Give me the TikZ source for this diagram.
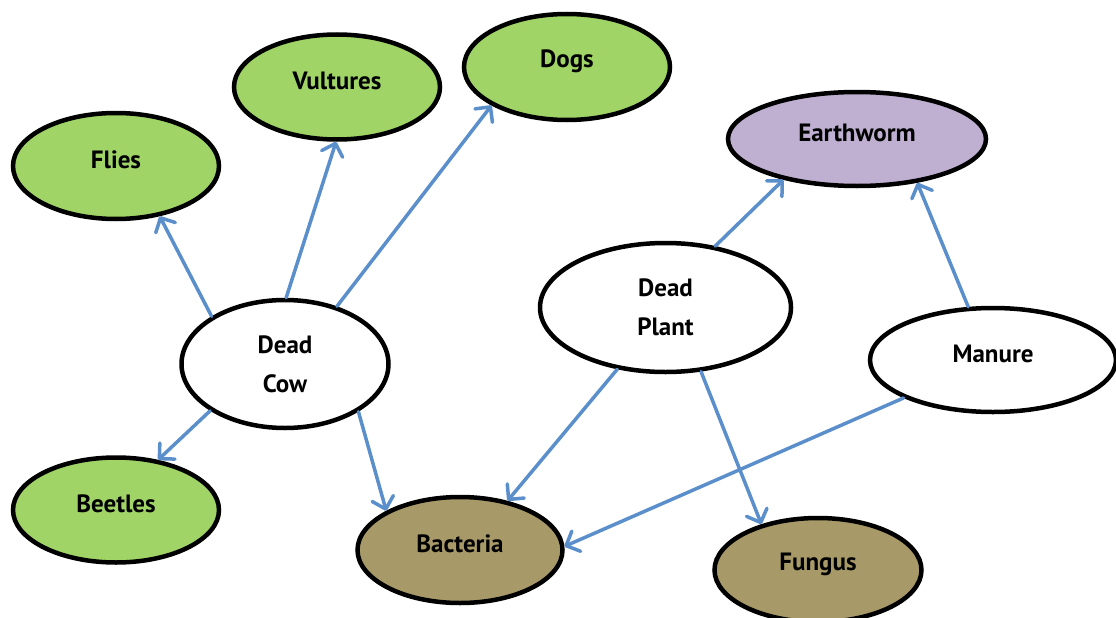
\documentclass[tikz,border=0pt]{standalone}
\usepackage{fontspec}
\setmainfont{PT Sans}
\usetikzlibrary{arrows.meta,shapes.geometric}
\definecolor{leafgreen}{HTML}{A0D466}
\definecolor{wormpurple}{HTML}{BFB0D2}
\definecolor{soilbrown}{HTML}{A89A68}
\definecolor{arrowblue}{HTML}{5B8FCB}
\newcommand{\lift}[1]{\raisebox{6pt}[\height][\depth]{#1}}
\tikzset{
  blob/.style={ellipse, draw=black, line width=4.5pt, inner sep=0pt,
    minimum width=#1, font=\bfseries\fontsize{25}{39}\selectfont, align=center},
  blob/.default=206pt,
  ingreen/.style={fill=leafgreen},
  inpurple/.style={fill=wormpurple},
  inbrown/.style={fill=soilbrown},
  inwhite/.style={fill=white},
  feed/.style={draw=arrowblue, line width=3.5pt, line cap=round,
    -{Straight Barb[length=11pt,width=22pt,line width=3.5pt,round]}},
}
\begin{document}
\begin{tikzpicture}[x=1pt,y=-1pt]
\useasboundingbox (0,0) rectangle (1116,618);
% nodes
\node[blob, ingreen, minimum height=106pt] (flies) at (116,166) {\lift{Flies}};
\node[blob, ingreen, minimum height=105pt] (vultures) at (337,87) {\lift{Vultures}};
\node[blob, ingreen, minimum height=106pt] (dogs) at (567,67) {\lift{Dogs}};
\node[blob=258pt, inpurple, minimum height=94pt] (earthworm) at (857,139) {\lift{Earthworm}};
\node[blob=207pt, inwhite, minimum height=128pt] (cow) at (285,364) {Dead\\Cow};
\node[blob=251pt, inwhite, minimum height=129pt] (plant) at (665.5,307.5) {Dead\\Plant};
\node[blob=246pt, inwhite, minimum height=104pt] (manure) at (993,360) {\lift{Manure}};
\node[blob, ingreen, minimum height=105pt] (beetles) at (116,510) {\lift{Beetles}};
\node[blob=205pt, inbrown, minimum height=106pt] (bacteria) at (460,550) {\lift{Bacteria}};
\node[blob=207pt, inbrown, minimum height=104pt] (fungus) at (818,570) {\lift{Fungus}};
% connectors
\draw[feed] (cow.147.8) -- (flies.-49.8);
\draw[feed] (cow.89) -- (vultures.-91);
\draw[feed] (cow.48.6) -- (dogs.207);
\draw[feed] (plant.51.9) -- (earthworm.-151.2);
\draw[feed] (manure.115.7) -- (earthworm.-36.4);
\draw[feed] (cow.212) -- (beetles.50.3);
\draw[feed] (cow.-33.7) -- (bacteria.152.2);
\draw[feed] (plant.-128.4) -- (bacteria.46.8);
\draw[feed] (plant.-61.1) -- (fungus.141.5);
\draw[feed] (manure.-157.2) -- (bacteria.2.7);
\end{tikzpicture}
\end{document}
